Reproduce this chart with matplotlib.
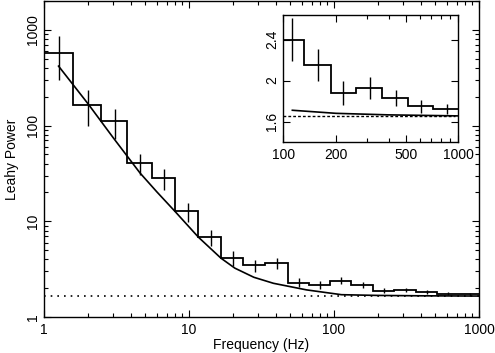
import matplotlib.pyplot as plt
import matplotlib.ticker as mticker
import numpy as np

plt.rcParams['font.family'] = ['Liberation Sans', 'DejaVu Sans']

# Binned power spectrum (Leahy normalised)
bin_edges = [1.0, 1.58, 2.47, 3.72, 5.53, 8.0, 11.6, 16.6, 23.5, 33.4, 48.0,
             67.2, 93.8, 132, 187, 261, 368, 515, 720, 1000]
bin_centres = [1.26, 2.02, 3.09, 4.59, 6.75, 9.78, 14.1, 20.0, 28.5, 40.7, 57.6,
               80.1, 112.6, 158.5, 220, 313, 439, 612, 861]
power = [577, 166, 111, 40.7, 28.3, 12.7, 6.83, 4.18, 3.46, 3.65, 2.29,
         2.16, 2.40, 2.15, 1.88, 1.925, 1.83, 1.75, 1.72]
power_err = [280, 68, 39, 10, 7, 2.9, 1.3, 0.77, 0.52, 0.44, 0.25,
             0.2, 0.21, 0.155, 0.115, 0.105, 0.08, 0.065, 0.05]

# Model curve (power law + constant)
model_freq = [1.26, 2.03, 3.0, 4.59, 6.0, 8.0, 11.6, 16.6, 20.7, 28.0,
              38.2, 64.6, 112.6, 200, 400, 1000]
model_power = [418, 166, 74.7, 32, 20.3, 12.7, 6.83, 4.12, 3.24, 2.6,
               2.25, 1.92, 1.71, 1.68, 1.665, 1.655]

noise_level = 1.65

fig = plt.figure(figsize=(4.95, 3.53), dpi=100)
ax = fig.add_axes([0.0889, 0.102, 0.8788, 0.895])


def draw(a, fmin):
    a.stairs(power, bin_edges, baseline=None, color='black', linewidth=1.3)
    a.errorbar(bin_centres, power, yerr=power_err, fmt='none',
               ecolor='black', elinewidth=1.0, capsize=0)
    mf = np.array(model_freq)
    mp = np.array(model_power)
    keep = mf >= fmin
    a.plot(mf[keep], mp[keep], color='black', linewidth=1.2)


def style_ticks(a):
    a.tick_params(which='both', direction='in', top=True, right=True,
                  labelsize=10, width=0.8, colors='black')
    a.tick_params(which='major', length=5)
    a.tick_params(which='minor', length=3)
    for s in a.spines.values():
        s.set_linewidth(1.0)
    plt.setp(a.get_yticklabels(), rotation=90, va='center')


draw(ax, 1)
ax.axhline(noise_level, color='black', linewidth=1.2, linestyle=(0, (1, 3)))
ax.set_xscale('log')
ax.set_yscale('log')
ax.set_xlim(1, 1000)
ax.set_ylim(1, 2000)
ax.xaxis.set_major_formatter(mticker.FormatStrFormatter('%g'))
ax.yaxis.set_major_formatter(mticker.FormatStrFormatter('%g'))
ax.xaxis.set_minor_formatter(mticker.NullFormatter())
ax.yaxis.set_minor_formatter(mticker.NullFormatter())
style_ticks(ax)
ax.tick_params(axis='x', pad=4)
ax.tick_params(axis='y', pad=3)
ax.set_xlabel('Frequency (Hz)', fontsize=10, labelpad=1)
ax.set_ylabel('Leahy Power', fontsize=10, labelpad=5)

# Inset zoom on the high-frequency part
ins = fig.add_axes([0.5724, 0.5977, 0.3535, 0.3598])
ins.set_facecolor('white')
draw(ins, 110)
ins.axhline(noise_level, xmax=0.98, color='black', linewidth=1.0,
            linestyle=(0, (2, 1.5)))
ins.set_xscale('log')
ins.set_xlim(100, 1000)
ins.set_ylim(1.4, 2.64)
ins.xaxis.set_major_locator(mticker.FixedLocator([100, 200, 500, 1000]))
ins.xaxis.set_major_formatter(mticker.FormatStrFormatter('%g'))
ins.xaxis.set_minor_locator(mticker.FixedLocator([300, 400, 600, 700, 800, 900]))
ins.xaxis.set_minor_formatter(mticker.NullFormatter())
ins.yaxis.set_major_locator(mticker.FixedLocator([1.6, 2.0, 2.4]))
ins.yaxis.set_major_formatter(mticker.FormatStrFormatter('%g'))
ins.yaxis.set_minor_locator(mticker.NullLocator())
style_ticks(ins)
ins.tick_params(axis='x', pad=4)
ins.tick_params(axis='y', pad=3)

fig.savefig('out.png', dpi=100)
